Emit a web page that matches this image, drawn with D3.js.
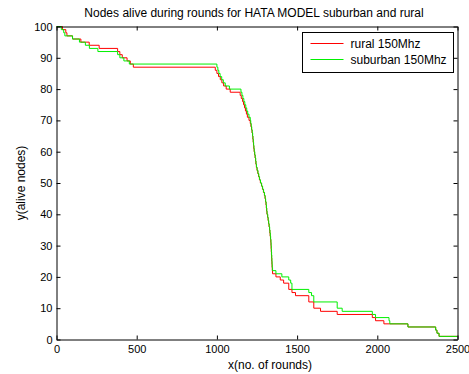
<!DOCTYPE html>
<html>
<head>
<meta charset="utf-8">
<script src="https://d3js.org/d3.v7.min.js"></script>
<style>
  body { margin: 0; background: #fff; }
  svg { font-family: "Liberation Sans", Arial, sans-serif; }
  .axis path, .axis line { stroke: #000; }
  .axis text { font-size: 11px; fill: #000; }
  .curve { fill: none; stroke-width: 1px; }
</style>
</head>
<body>
<script>
// step data: [round at which the count changes, nodes alive from there on]
var rural = [
  [0,100],[37,99],[58,98],[65,97],[100,96],[152,95],[204,94],[266,93],[381,92],[395,91],
  [410,90],[440,89],[460,88],[479,87],[990,86],[1000,85],[1010,84],[1021,83],[1031,82],
  [1042,81],[1058,80],[1083,79],[1145,78],[1152,77],[1160,76],[1166,75],[1172,74],[1178,73],
  [1184,72],[1190,71],[1200,70],[1208,69],[1212,68],[1216,67],[1219,66],[1222,65],[1224,64],
  [1226,63],[1228,62],[1230,61],[1232,60],[1235,59],[1238,58],[1241,57],[1243,56],[1246,55],
  [1250,54],[1255,53],[1260,52],[1265,51],[1271,50],[1278,49],[1284,48],[1290,47],[1296,46],
  [1300,45],[1303,44],[1306,43],[1308,42],[1310,41],[1312,40],[1316,39],[1319,38],[1322,37],
  [1325,36],[1328,35],[1330,34],[1332,33],[1334,32],[1336,31],[1337,30],[1338,29],[1339,28],
  [1340,27],[1341,26],[1342,25],[1343,24],[1344,23],[1345,22],[1347,21],[1368,20],[1395,19],
  [1416,18],[1448,16],[1468,15],[1490,14],[1573,12],[1604,10],[1646,9],[1750,8],[1969,7],
  [1989,6],[2041,5],[2191,4],[2364,3],[2372,2],[2385,1],[2500,1]
];
var suburban = [
  [0,100],[30,99],[45,98],[52,97],[100,96],[143,95],[180,94],[205,93],[258,92],[381,91],
  [395,90],[420,89],[454,88],[1000,87],[1006,86],[1012,85],[1020,84],[1030,83],[1040,82],
  [1052,81],[1078,80],[1150,79],[1156,78],[1162,77],[1168,76],[1174,75],[1180,74],[1186,73],
  [1192,72],[1200,71],[1208,70],[1211,69],[1214,68],[1217,67],[1220,66],[1223,65],[1225,64],
  [1227,63],[1229,62],[1231,61],[1233,60],[1236,59],[1239,58],[1242,57],[1244,56],[1247,55],
  [1251,54],[1256,53],[1261,52],[1266,51],[1272,50],[1279,49],[1285,48],[1291,47],[1297,46],
  [1301,45],[1304,44],[1307,43],[1309,42],[1311,41],[1313,40],[1317,39],[1320,38],[1323,37],
  [1326,36],[1329,35],[1331,34],[1333,33],[1335,32],[1337,31],[1338,30],[1339,29],[1340,28],
  [1341,27],[1342,26],[1343,25],[1344,24],[1345,23],[1347,22],[1368,21],[1405,20],[1448,19],
  [1460,18],[1468,16],[1573,15],[1590,14],[1604,12],[1750,10],[1781,9],[1969,8],[1989,7],
  [2073,6],[2078,5],[2191,4],[2364,3],[2372,2],[2385,1],[2500,1]
];
var series = [
  {name: "rural 150Mhz", color: "#ff0000", values: rural},
  {name: "suburban 150Mhz", color: "#00f000", values: suburban}
];
var xTicks = [0, 500, 1000, 1500, 2000, 2500];
var yTicks = [0, 10, 20, 30, 40, 50, 60, 70, 80, 90, 100];

var width = 469, height = 374;
var mLeft = 56.5, mRight = 457.5, mTop = 26.5, mBottom = 339.5;

var svg = d3.select("body").append("svg")
  .attr("width", width)
  .attr("height", height);

var x = d3.scaleLinear().domain([0, 2500]).range([mLeft, mRight]);
var y = d3.scaleLinear().domain([0, 100]).range([mBottom, mTop]);

var line = d3.line()
  .x(function(d) { return x(d[0]); })
  .y(function(d) { return y(d[1]); })
  .curve(d3.curveStepAfter);

svg.selectAll("path.curve")
  .data(series)
  .enter().append("path")
  .attr("class", "curve")
  .attr("stroke", function(d) { return d.color; })
  .attr("d", function(d) { return line(d.values); });

// axes, ticks pointing inward like matlab
var fmt = d3.format("d");
svg.append("g").attr("class", "axis")
  .attr("transform", "translate(0," + mBottom + ")")
  .call(d3.axisBottom(x).tickValues(xTicks).tickFormat(fmt).tickSizeInner(-4).tickSizeOuter(0).tickPadding(6));
svg.append("g").attr("class", "axis")
  .attr("transform", "translate(0," + mTop + ")")
  .call(d3.axisTop(x).tickValues(xTicks).tickSizeInner(-4).tickSizeOuter(0).tickFormat(""));
svg.append("g").attr("class", "axis")
  .attr("transform", "translate(" + mLeft + ",0)")
  .call(d3.axisLeft(y).tickValues(yTicks).tickFormat(fmt).tickSizeInner(-4).tickSizeOuter(0).tickPadding(4));
svg.append("g").attr("class", "axis")
  .attr("transform", "translate(" + mRight + ",0)")
  .call(d3.axisRight(y).tickValues(yTicks).tickSizeInner(-4).tickSizeOuter(0).tickFormat(""));

// titles
svg.append("text")
  .attr("x", (mLeft + mRight) / 2 - 3).attr("y", 17)
  .attr("text-anchor", "middle")
  .style("font-size", "12px")
  .text("Nodes alive during rounds for HATA MODEL suburban and rural");

svg.append("text")
  .attr("x", (mLeft + mRight) / 2 + 13).attr("y", 369)
  .attr("text-anchor", "middle")
  .style("font-size", "12px")
  .text("x(no. of rounds)");

svg.append("text")
  .attr("transform", "translate(25," + ((mTop + mBottom) / 2) + ") rotate(-90)")
  .attr("text-anchor", "middle")
  .style("font-size", "12px")
  .text("y(alive nodes)");

// legend
var legend = svg.append("g").attr("transform", "translate(302.5,32.5)");
legend.append("rect")
  .attr("width", 151).attr("height", 40)
  .attr("fill", "#fff").attr("stroke", "#000");
var item = legend.selectAll("g.item")
  .data(series)
  .enter().append("g")
  .attr("class", "item")
  .attr("transform", function(d, i) { return "translate(0," + (11 + i * 16) + ")"; });
item.append("line")
  .attr("x1", 8).attr("x2", 41)
  .attr("stroke", function(d) { return d.color; });
item.append("text")
  .attr("x", 48).attr("y", 4)
  .style("font-size", "12px")
  .text(function(d) { return d.name; });
</script>
</body>
</html>
